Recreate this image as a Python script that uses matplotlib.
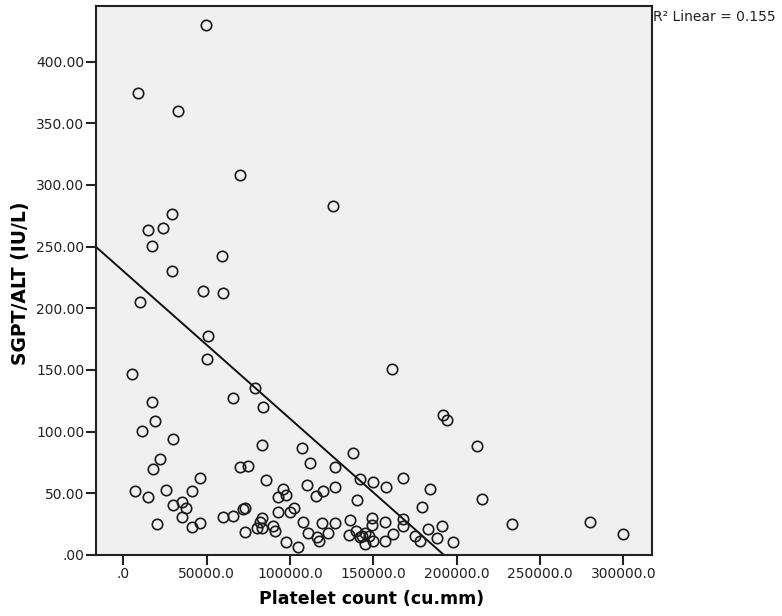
import matplotlib
matplotlib.use("Agg")
import matplotlib.pyplot as plt
from matplotlib.ticker import FuncFormatter
import numpy as np

# platelet count (cu.mm) vs SGPT/ALT (IU/L)
platelet = [49620, 8820, 32820, 70020, 126000, 29040, 15000, 24000, 17040, 59040,
            29040, 48000, 60000, 10020, 51000, 50040, 5040, 161040, 66000, 79020,
            17040, 84000, 192000, 194040, 19020, 11040, 30000, 212040, 83040, 138000,
            107040, 22020, 18000, 70020, 75000, 112020, 127020, 168000, 46020, 85620,
            142020, 150000, 157320, 184020, 110040, 215040, 7020, 15000, 25620, 40920,
            30000, 35040, 37440, 20040, 35040, 41040, 46020, 60000, 66000, 72000,
            73020, 73020, 80040, 82020, 83040, 83040, 90000, 91020, 93000, 93000,
            96000, 97440, 97440, 100020, 102420, 105000, 108000, 111000, 115440, 116040,
            117600, 119040, 120000, 123000, 127020, 127020, 136020, 135120, 140040, 179040,
            139620, 142020, 143040, 145020, 145020, 147600, 149040, 149040, 149640, 157020,
            157020, 162000, 168000, 168000, 175020, 178020, 183000, 188040, 191040, 198000,
            233040, 280020, 300000]
alt = [429.5, 374.4, 359.8, 307.9, 283.1, 276.3, 263.4, 265.2, 250.4, 242.3,
       230.4, 214.2, 212.1, 205.3, 177.5, 158.6, 146.4, 150.5, 127.0, 135.1,
       124.2, 120.2, 113.5, 109.4, 108.6, 100.5, 94.2, 88.3, 89.1, 82.4,
       86.5, 77.6, 69.4, 71.6, 72.4, 74.3, 71.6, 62.6, 62.4, 60.8,
       61.2, 59.2, 55.1, 53.5, 56.7, 45.4, 51.9, 46.8, 52.7, 51.9,
       40.5, 43.2, 38.3, 24.9, 30.6, 22.4, 25.7, 30.6, 31.6, 37.0,
       38.3, 18.9, 21.6, 27.0, 29.7, 21.6, 23.5, 19.7, 34.6, 46.8,
       53.9, 48.6, 10.8, 35.1, 38.3, 6.2, 26.5, 17.6, 47.8, 14.3,
       11.6, 25.7, 51.9, 17.6, 55.1, 25.7, 28.4, 16.6, 44.6, 38.7,
       19.4, 14.3, 15.4, 18.1, 8.9, 15.4, 29.7, 24.3, 11.6, 26.5,
       11.6, 17.0, 28.9, 23.5, 15.6, 11.6, 20.8, 13.5, 23.7, 10.8,
       24.9, 26.5, 16.8]

# linear fit shown in the chart
fit_intercept = 230.1
fit_slope = -0.001196
r2_text = "R² Linear = 0.155"

xmin, xmax = -16400, 317200
ymin, ymax = 0, 445

fig = plt.figure(figsize=(7.82, 6.16), dpi=100)
ax = fig.add_axes([96/782, 61/616, 556/782, 549/616])
ax.set_facecolor('#f0f0f0')

ax.plot(platelet, alt, 'o', markersize=7.5, markerfacecolor='none',
        markeredgecolor='#1a1a1a', markeredgewidth=1.2, zorder=3)

# fit line, stopped where it reaches zero like SPSS does
x_end = -fit_intercept / fit_slope
xs = np.array([xmin, x_end])
ax.plot(xs, fit_intercept + fit_slope * xs, color='#111111', lw=1.4, zorder=2)

ax.set_xlim(xmin, xmax)
ax.set_ylim(ymin, ymax)
ax.set_xticks(np.arange(0, 300001, 50000))
ax.set_yticks(np.arange(0, 401, 50))
ax.xaxis.set_major_formatter(FuncFormatter(lambda v, p: '.0' if v == 0 else '%.1f' % v))
ax.yaxis.set_major_formatter(FuncFormatter(lambda v, p: '.00' if v == 0 else '%.2f' % v))
ax.tick_params(direction='out', length=7, width=1.5, color='#222222',
               labelsize=10, labelcolor='#222222', pad=1.5)

for s in ax.spines.values():
    s.set_linewidth(1.5)
    s.set_color('#222222')

ax.set_xlabel('Platelet count (cu.mm)', fontsize=12.5, fontweight='bold')
ax.set_ylabel('SGPT/ALT (IU/L)', fontsize=13.5, fontweight='bold')
ax.xaxis.set_label_coords(0.495, -0.064)
ax.yaxis.set_label_coords(-0.119, 0.495)

fig.text(653/782, 1 - 17/616, r2_text, fontsize=10, color='#222222',
         ha='left', va='center')

fig.savefig('out.png', dpi=100)
